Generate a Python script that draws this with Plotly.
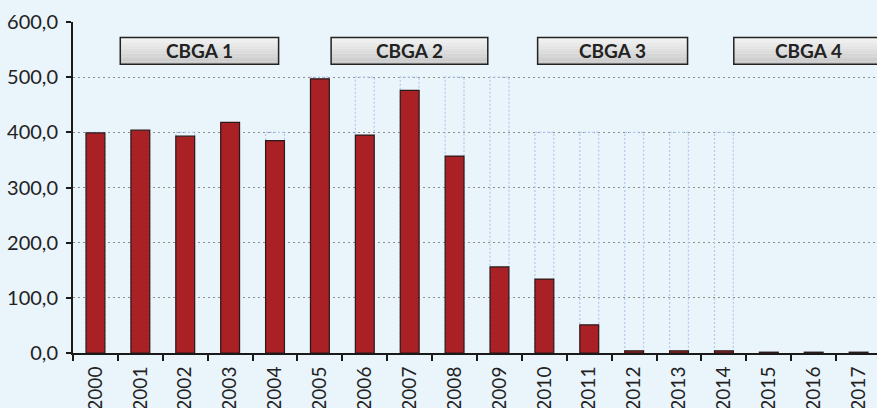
import plotly.graph_objects as go

years = ["2000", "2001", "2002", "2003", "2004", "2005", "2006", "2007", "2008",
         "2009", "2010", "2011", "2012", "2013", "2014", "2015", "2016", "2017"]
actual = [399, 404, 393, 418, 385, 497, 395, 476, 357, 156, 134, 51, 4, 4, 4, 1.5, 1.5, 1.5]
planned = [400, 400, 400, 400, 400, 500, 500, 500, 500, 500, 400, 400, 400, 400, 400, None, None, None]
programmes = ["CBGA 1", "CBGA 2", "CBGA 3", "CBGA 4"]
programme_spans = [(0.553, 4.08), (5.25, 8.74), (9.85, 13.19), (14.22, 17.55)]
y_ticks = [0, 100, 200, 300, 400, 500, 600]
y_tick_labels = ["0,0", "100,0", "200,0", "300,0", "400,0", "500,0", "600,0"]

BG = "#eaf4fb"
RED = "#a92025"
FONT = "Lato"
BAR_W = 0.42

fig = go.Figure()
fig.add_trace(go.Bar(
    x=years, y=actual, width=BAR_W,
    marker=dict(color=RED, line=dict(color="#2a1a1a", width=1.2)),
    showlegend=False, hoverinfo="x+y",
))

shapes = []
# planned (ghost) bars as dotted outlines
for i, p in enumerate(planned):
    if p is None:
        continue
    shapes.append(dict(type="rect", xref="x", yref="y",
                       x0=i - BAR_W / 2, x1=i + BAR_W / 2, y0=0, y1=p,
                       line=dict(color="#b3cbf0", width=1.3, dash="2px,2px"),
                       fillcolor="rgba(0,0,0,0)", layer="between"))

# programme label boxes with a vertical gradient
y_lo, y_hi = 523.5, 571.7
n_strips = 10
top_c = (243, 243, 243)
bot_c = (200, 200, 200)
annotations = []
for name, (x0, x1) in zip(programmes, programme_spans):
    for k in range(n_strips):
        t = k / (n_strips - 1)
        c = tuple(int(round(top_c[j] + (bot_c[j] - top_c[j]) * t)) for j in range(3))
        ya = y_hi - (y_hi - y_lo) * k / n_strips
        yb = y_hi - (y_hi - y_lo) * (k + 1) / n_strips
        shapes.append(dict(type="rect", xref="x", yref="y", x0=x0, x1=x1,
                           y0=yb, y1=ya, line=dict(width=0),
                           fillcolor="rgb(%d,%d,%d)" % c, layer="above"))
    shapes.append(dict(type="rect", xref="x", yref="y", x0=x0, x1=x1,
                       y0=y_lo, y1=y_hi, line=dict(color="#222222", width=1.5),
                       fillcolor="rgba(0,0,0,0)", layer="above"))
    annotations.append(dict(x=(x0 + x1) / 2, y=(y_lo + y_hi) / 2, xref="x", yref="y",
                            text="<b>%s</b>" % name, showarrow=False,
                            font=dict(family=FONT, size=19, color="#222222")))

fig.update_layout(
    width=877, height=408,
    margin=dict(l=73, r=0, t=22, b=55, autoexpand=False),
    paper_bgcolor=BG, plot_bgcolor=BG,
    barmode="overlay",
    shapes=shapes, annotations=annotations,
    font=dict(family=FONT, color="#222222"),
    xaxis=dict(type="category", range=[-0.5, 17.41], showgrid=False,
               automargin=False,
               showline=True, linecolor="#1a1a1a", linewidth=2,
               ticks="outside", tickson="boundaries", ticklen=6, tickwidth=2,
               tickcolor="#1a1a1a", tickangle=-90, ticklabelstandoff=4,
               tickfont=dict(family=FONT, size=19, color="#222222")),
    yaxis=dict(range=[0, 600], tickvals=y_ticks, ticktext=y_tick_labels,
               automargin=False,
               showline=True, linecolor="#1a1a1a", linewidth=2,
               ticks="outside", ticklen=5, tickwidth=2, tickcolor="#1a1a1a",
               showgrid=True, gridcolor="#8f8f8f", griddash="2px,3px", gridwidth=1,
               zeroline=False, ticklabelstandoff=4,
               tickfont=dict(family=FONT, size=20, color="#222222")),
)

fig.write_html("out.html", config={"displayModeBar": False},
               post_script="document.body.style.margin='0';document.body.style.padding='0';document.body.style.background='%s';" % BG)
